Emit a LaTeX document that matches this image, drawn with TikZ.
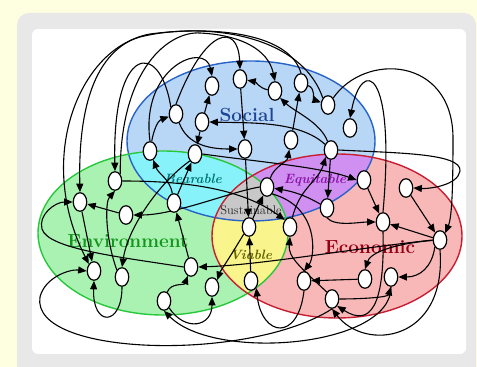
\documentclass[tikz,border=0pt]{standalone}
\usetikzlibrary{arrows.meta,shapes.geometric}
\pgfdeclarelayer{bg}\pgfdeclarelayer{mid}
\pgfsetlayers{bg,mid,main}
\definecolor{pagebg}{RGB}{254,254,224}
\definecolor{framegray}{RGB}{232,232,232}
\definecolor{socfill}{RGB}{184,214,246}
\definecolor{envfill}{RGB}{170,242,178}
\definecolor{ecofill}{RGB}{248,184,184}
\definecolor{cyanfill}{RGB}{136,242,250}
\definecolor{purpfill}{RGB}{208,144,242}
\definecolor{yelfill}{RGB}{250,244,140}
\definecolor{grayfill}{RGB}{200,200,200}
\definecolor{socline}{RGB}{40,100,200}
\definecolor{envline}{RGB}{40,200,60}
\definecolor{ecoline}{RGB}{200,30,50}
\definecolor{soctext}{RGB}{30,70,150}
\definecolor{envtext}{RGB}{20,150,30}
\definecolor{ecotext}{RGB}{150,0,20}
\definecolor{beartext}{RGB}{0,120,120}
\definecolor{equitext}{RGB}{140,20,170}
\definecolor{viabtext}{RGB}{100,100,0}
\def\soc{(251,226) ellipse [x radius=124pt, y radius=80pt]}
\def\env{(163,134) ellipse [x radius=125pt, y radius=82pt]}
\def\eco{(337,131) ellipse [x radius=125pt, y radius=82pt]}
\begin{document}
\begin{tikzpicture}[x=1pt,y=1pt,
  nd/.style={ellipse,draw,fill=white,line width=1.2pt,minimum width=13.5pt,minimum height=18.5pt,inner sep=0pt},
  ed/.style={draw,line width=1.1pt,-{Triangle[length=8.5pt,width=7pt]}},
  big/.style={font=\fontsize{19}{21}\selectfont\bfseries},
  sub/.style={font=\fontsize{13.5}{15}\selectfont\bfseries\itshape}]
\useasboundingbox (0,0) rectangle (477,367);
\clip (0,0) rectangle (477,367);
\begin{pgfonlayer}{bg}
\fill[pagebg] (0,0) rectangle (477,367);
\fill[framegray, rounded corners=12pt] (17,-20) rectangle (476,354);
\fill[white, rounded corners=6pt] (32,13) rectangle (466,338);
\fill[socfill] \soc;
\fill[envfill] \env;
\fill[ecofill] \eco;
\begin{scope}\clip \soc; \fill[cyanfill] \env; \end{scope}
\begin{scope}\clip \soc; \fill[purpfill] \eco; \end{scope}
\begin{scope}\clip \env; \fill[yelfill] \eco; \end{scope}
\begin{scope}\clip \soc; \clip \env; \fill[grayfill] \eco; \end{scope}
\draw[socline, line width=1.4pt] \soc;
\draw[envline, line width=1.4pt] \env;
\draw[ecoline, line width=1.4pt] \eco;
\node[big, text=soctext] (lsoc) at (247,252) {Social};
\node[big, text=envtext] (lenv) at (128,126) {Environment};
\node[big, text=ecotext] (leco) at (370,120) {Economic};
\node[sub, text=beartext] (lbear) at (193,188) {Bearable};
\node[sub, text=equitext] (lequi) at (315,187) {Equitable};
\node[font=\fontsize{12.5}{14}\selectfont, text=black!85] (lsus) at (251,157) {Sustainable};
\node[sub, text=viabtext] (lvia) at (251,112) {Viable};
\end{pgfonlayer}
% nodes
\node[nd] (n1) at (212,281) {};
\node[nd] (n2) at (240,288) {};
\node[nd] (n3) at (275,276) {};
\node[nd] (n4) at (301,284) {};
\node[nd] (n5) at (328,262) {};
\node[nd] (n6) at (350,239) {};
\node[nd] (n7) at (176,253) {};
\node[nd] (n8) at (202,245) {};
\node[nd] (n9) at (150,216) {};
\node[nd] (n10) at (195,213) {};
\node[nd] (n11) at (245,218) {};
\node[nd] (n12) at (291,227) {};
\node[nd] (n13) at (331,217) {};
\node[nd] (n14) at (115,186) {};
\node[nd] (n15) at (80,165) {};
\node[nd] (n16) at (126,152) {};
\node[nd] (n17) at (174,164) {};
\node[nd] (n18) at (267,180) {};
\node[nd] (n19) at (364,187) {};
\node[nd] (n20) at (406,179) {};
\node[nd] (n21) at (327,159) {};
\node[nd] (n22) at (249,140) {};
\node[nd] (n23) at (290,140) {};
\node[nd] (n24) at (383,145) {};
\node[nd] (n25) at (440,127) {};
\node[nd] (n26) at (94,96) {};
\node[nd] (n27) at (122,90) {};
\node[nd] (n28) at (191,100) {};
\node[nd] (n29) at (212,80) {};
\node[nd] (n30) at (164,66) {};
\node[nd] (n31) at (251,86) {};
\node[nd] (n32) at (304,86) {};
\node[nd] (n33) at (332,68) {};
\node[nd] (n34) at (365,88) {};
\node[nd] (n35) at (391,90) {};
\begin{pgfonlayer}{mid}
% social
\draw[ed] (n4) to[out=-20,in=160] (n5);
\draw[ed] (n3) to[out=170,in=-10] (n2);
\draw[ed] (n8) -- (n1);
\draw[ed] (n9) to[out=80,in=200] (n7);
\draw[ed] (n7) to[out=-70,in=180] (n11);
\draw[ed] (n13) .. controls (300,246) and (250,244) .. (n8.east);
\draw[ed] (n8) -- (n10);
\draw[ed] (n12) -- (n4);
\draw[ed] (n13) .. controls (320,245) and (295,255) .. (n3.south east);
\draw[ed] (n2) -- (n11);
\draw[ed] (n18) to[out=70,in=-100] (n12);
% top arcs
\draw[ed] (n5.north west) .. controls (300,335) and (200,345) .. (140,330) .. controls (80,313) and (35,210) .. (n26.north west);
\draw[ed] (n4.north) .. controls (290,332) and (220,342) .. (150,333) .. controls (95,323) and (78,260) .. (n15.north);
\draw[ed] (n7.north west) .. controls (160,328) and (112,323) .. (n14.north);
\draw[ed] (n7.north) .. controls (205,340) and (238,345) .. (n2.north);
\draw[ed] (n14.north east) .. controls (120,300) and (170,336) .. (200,334) .. controls (240,332) and (268,318) .. (n3.north);
\draw[ed] (n9.north) .. controls (140,300) and (205,326) .. (n1.north);
% right loops
\draw[ed] (n5.north east) .. controls (365,315) and (452,310) .. (453,230) .. controls (453,180) and (452,150) .. (n25.north east);
\draw[ed] (n24.north) .. controls (396,300) and (362,310) .. (n6.north);
\draw[ed] (n13.east) .. controls (395,214) and (462,214) .. (460,196) .. controls (458,182) and (430,178) .. (n20.east);
% economic
\draw[ed] (n13) -- (n21);
\draw[ed] (n21.south) .. controls (335,140) and (360,145) .. (n24.west);
\draw[ed] (n25) -- (n24);
\draw[ed] (n19) -- (n24);
\draw[ed] (n20) -- (n25);
\draw[ed] (n25.south west) .. controls (432,100) and (420,90) .. (n35.east);
\draw[ed] (n25) .. controls (410,125) and (372,118) .. (n34.north);
\draw[ed] (n34) -- (n32);
\draw[ed] (n33.east) .. controls (365,68) and (388,70) .. (n35.south);
\draw[ed] (n21) to[out=150,in=-10] (n18);
\draw[ed] (n23) .. controls (300,180) and (318,185) .. (n13.south west);
\draw[ed] (n18.south east) .. controls (320,160) and (315,110) .. (n32.north);
\draw[ed] (n24.south) .. controls (385,60) and (370,40) .. (n33.south east);
% environment
\draw[ed] (n16) -- (n15);
\draw[ed] (n18.west) .. controls (230,175) and (175,152) .. (n16.east);
\draw[ed] (n15) -- (n26);
\draw[ed] (n10.south west) .. controls (160,185) and (128,140) .. (n27.north);
\draw[ed] (n27.north west) .. controls (105,130) and (105,165) .. (n14.south);
\draw[ed] (n28) -- (n17);
\draw[ed] (n30) to[out=70,in=-110] (n28);
\draw[ed] (n17) to[out=100,in=-70] (n9);
\draw[ed] (n17) -- (n10);
\draw[ed] (n14.east) .. controls (180,186) and (240,180) .. (n23.north west);
\draw[ed] (n28.west) .. controls (120,110) and (48,118) .. (42,138) .. controls (38,152) and (55,165) .. (n15.west);
\draw[ed] (n25.west) .. controls (350,118) and (260,102) .. (n28.east);
\draw[ed] (n27.south) .. controls (122,40) and (92,40) .. (n26.south);
\draw[ed] (n33.south) .. controls (250,5) and (30,10) .. (40,70) .. controls (45,90) and (70,98) .. (n26.west);
% middle
\draw[ed] (n11) -- (n22);
\draw[ed] (n31) -- (n22);
\draw[ed] (n22) -- (n18);
\draw[ed] (n33.north west) .. controls (300,100) and (288,110) .. (n23.south);
\draw[ed] (n10.east) .. controls (260,205) and (320,200) .. (n19.west);
\draw[ed] (n22.south west) .. controls (230,110) and (220,95) .. (n29.north east);
% bottom
\draw[ed] (n35.south) .. controls (392,20) and (215,5) .. (n30.south);
\draw[ed] (n25.south) .. controls (447,25) and (365,15) .. (n33.south);
\draw[ed] (n30.south east) .. controls (185,35) and (212,40) .. (n29.south);
\draw[ed] (n32.south) .. controls (298,25) and (262,30) .. (n31.south east);
\end{pgfonlayer}
\end{tikzpicture}
\end{document}
